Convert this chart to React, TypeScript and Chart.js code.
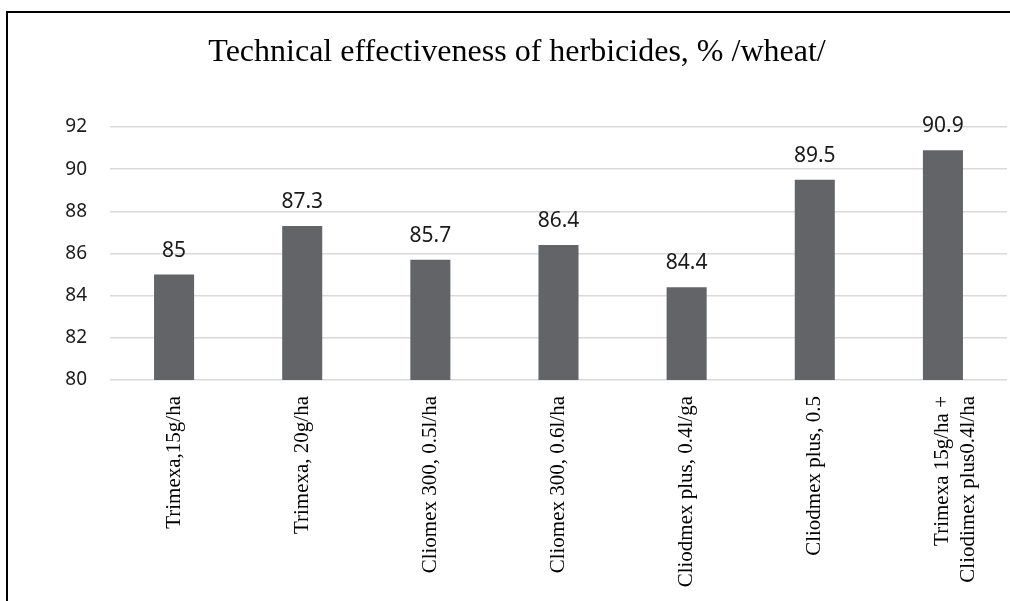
import React, { useEffect, useRef } from "react";
import { Chart, registerables } from "chart.js";

Chart.register(...registerables);

const categories: (string | string[])[] = [
  "Trimexa,15g/ha",
  "Trimexa, 20g/ha",
  "Cliomex 300, 0.5l/ha",
  "Cliomex 300, 0.6l/ha",
  "Cliodmex plus, 0.4l/ga",
  "Cliodmex plus, 0.5",
  ["Trimexa 15g/ha +", "Cliodimex plus0.4l/ha"],
];
const values: number[] = [85, 87.3, 85.7, 86.4, 84.4, 89.5, 90.9];
const yMin = 80;
const yMax = 92;
const yStep = 2;
const titleText = "Technical effectiveness of herbicides, % /wheat/";

const valueLabels = {
  id: "valueLabels",
  afterDatasetsDraw(chart: any) {
    const ctx = chart.ctx;
    const meta = chart.getDatasetMeta(0);
    ctx.save();
    ctx.font = "21px 'Noto Sans'";
    ctx.fillStyle = "#1a1a1a";
    ctx.textAlign = "center";
    ctx.textBaseline = "alphabetic";
    meta.data.forEach((el: any, i: number) => {
      const v = chart.data.datasets[0].data[i];
      ctx.fillText(String(v), el.x, el.y - 18);
    });
    ctx.restore();
  },
};

const chartTitle = {
  id: "chartTitle",
  afterDraw(chart: any) {
    const ctx = chart.ctx;
    ctx.save();
    ctx.font = "32px 'Liberation Serif'";
    ctx.fillStyle = "#000";
    ctx.textAlign = "center";
    ctx.textBaseline = "alphabetic";
    ctx.fillText(titleText, 517, 61);
    ctx.restore();
  },
};

export default function App() {
  const ref = useRef<HTMLCanvasElement | null>(null);
  useEffect(() => {
    document.body.style.margin = "0";
    if (!ref.current) return;
    const chart = new Chart(ref.current, {
      type: "bar",
      data: {
        labels: categories,
        datasets: [
          {
            data: values,
            backgroundColor: "#636467",
            categoryPercentage: 1,
            barPercentage: 0.3125,
          },
        ],
      },
      options: {
        responsive: false,
        animation: false,
        layout: { padding: { top: 127, right: 3, bottom: 0, left: 0 } },
        plugins: {
          legend: { display: false },
          tooltip: { enabled: false },
          title: { display: false },
        },
        scales: {
          x: {
            grid: { display: false },
            border: { display: false },
            ticks: {
              color: "#000",
              font: { family: "'Liberation Serif'", size: 21 },
              minRotation: 90,
              maxRotation: 90,
              padding: 8,
              autoSkip: false,
            },
            afterFit(scale: any) {
              scale.height = 221;
            },
          },
          y: {
            min: yMin,
            max: yMax,
            grid: { color: "#d9d9d9", lineWidth: 1.5, drawTicks: false },
            border: { display: false },
            ticks: {
              stepSize: yStep,
              color: "#1a1a1a",
              font: { family: "'Noto Sans'", size: 19 },
              padding: 23,
            },
            afterFit(scale: any) {
              scale.width = 110;
            },
          },
        },
      },
      plugins: [valueLabels, chartTitle],
    });
    return () => chart.destroy();
  }, []);
  return (
    <div style={{ position: "relative", width: 1010, height: 601, overflow: "hidden" }}>
      <canvas ref={ref} width={1010} height={601} style={{ display: "block" }} />
      <div
        style={{
          position: "absolute",
          left: 6,
          top: 11,
          right: -10,
          bottom: -10,
          borderLeft: "2px solid #000",
          borderTop: "2px solid #000",
          pointerEvents: "none",
        }}
      />
    </div>
  );
}
